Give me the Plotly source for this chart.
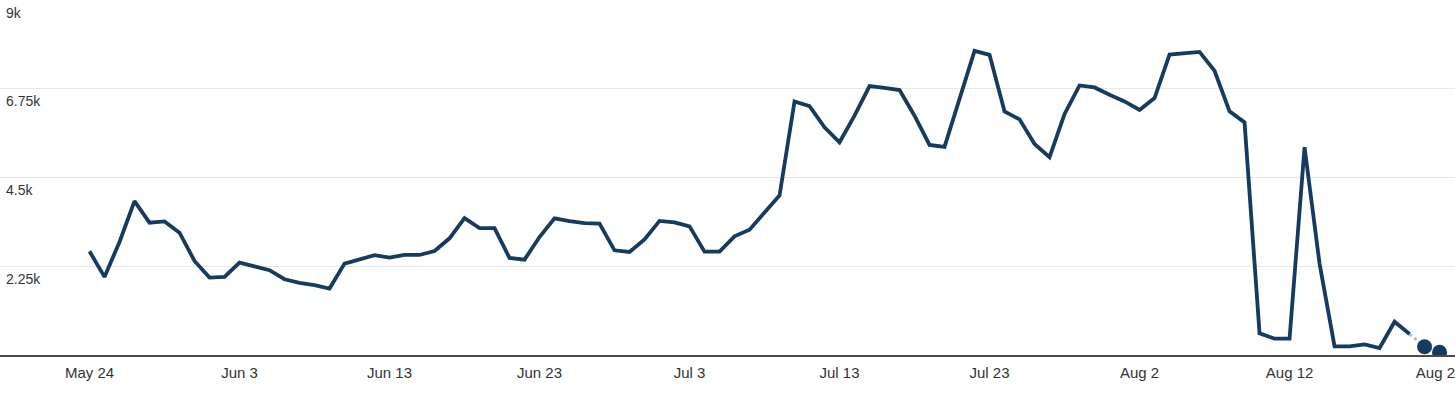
import pandas as pd
import plotly.graph_objects as go

start_date = "2023-05-24"
values = [
    2629, 1980, 2865, 3901, 3354, 3388, 3101, 2385, 1963, 1980,
    2343, 2250, 2149, 1921, 1828, 1770, 1686, 2317, 2419, 2530,
    2469, 2536, 2536, 2637, 2958, 3472, 3219, 3219, 2460, 2418,
    2991, 3463, 3396, 3345, 3329, 2654, 2612, 2932, 3400, 3362,
    3261, 2621, 2621, 3008, 3177, 3598, 4045, 6429, 6311, 5772,
    5393, 6067, 6817, 6775, 6716, 6067, 5326, 5275, 6486, 7711,
    7610, 6176, 5974, 5351, 5014, 6109, 6834, 6783, 6598, 6429,
    6211, 6514, 7618, 7643, 7685, 7205, 6176, 5898, 548, 413,
    413, 5267, 2317, 219, 219, 270, 177, 843, 531,
]
partial_values = [210, 68]

dates = pd.date_range(start_date, periods=len(values) + len(partial_values), freq="D")
full_dates = dates[: len(values)]
partial_dates = dates[len(values) - 1:]

x_tick_vals = ["2023-05-24", "2023-06-03", "2023-06-13", "2023-06-23", "2023-07-03",
               "2023-07-13", "2023-07-23", "2023-08-02", "2023-08-12", "2023-08-22"]
x_tick_text = ["May 24", "Jun 3", "Jun 13", "Jun 23", "Jul 3",
               "Jul 13", "Jul 23", "Aug 2", "Aug 12", "Aug 22"]
y_tick_vals = [2250, 4500, 6750, 9000]
y_tick_text = ["2.25k", "4.5k", "6.75k", "9k"]

LINE = "#163b61"
FONT = "Liberation Sans, Arial, sans-serif"

fig = go.Figure()
fig.add_trace(go.Scatter(
    x=partial_dates, y=[values[-1]] + partial_values,
    mode="lines", line=dict(color="#aebfd0", width=3, dash="dot"),
    hoverinfo="skip",
))
fig.add_trace(go.Scatter(
    x=full_dates, y=values, mode="lines",
    line=dict(color=LINE, width=3.8),
))
fig.add_trace(go.Scatter(
    x=dates[len(values):], y=partial_values, mode="markers",
    marker=dict(color=LINE, size=15),
))

fig.update_layout(
    width=1465, height=396,
    margin=dict(l=0, r=10, t=0, b=41),
    paper_bgcolor="white", plot_bgcolor="white",
    showlegend=False,
    font=dict(family=FONT, size=14, color="#333333"),
    xaxis=dict(
        type="date",
        range=["2023-05-18 00:48", "2023-08-23 00:43"],
        tickvals=x_tick_vals, ticktext=x_tick_text,
        ticklabeloverflow="allow",
        showgrid=False, zeroline=False,
        showline=True, linecolor="#4a4a4a", linewidth=2,
        ticks="outside", ticklen=3, tickcolor="rgba(0,0,0,0)",
        tickfont=dict(family=FONT, size=15, color="#333333"),
    ),
    yaxis=dict(
        range=[0, 9000],
        tickvals=y_tick_vals, ticktext=y_tick_text,
        ticklabelposition="inside bottom",
        ticklabeloverflow="allow",
        ticklabelstandoff=3, ticklabelshift=3,
        showgrid=True, gridcolor="#e6e6e6", gridwidth=1,
        zeroline=False, showline=False,
        tickfont=dict(family=FONT, size=14, color="#333333"),
    ),
)

post = (
    "document.documentElement.style.overflow='hidden';"
    "document.body.style.margin='0';"
    "document.body.style.overflow='hidden';"
)

fig.write_html(
    "out.html",
    config={"displayModeBar": False, "responsive": False},
    post_script=post,
)
